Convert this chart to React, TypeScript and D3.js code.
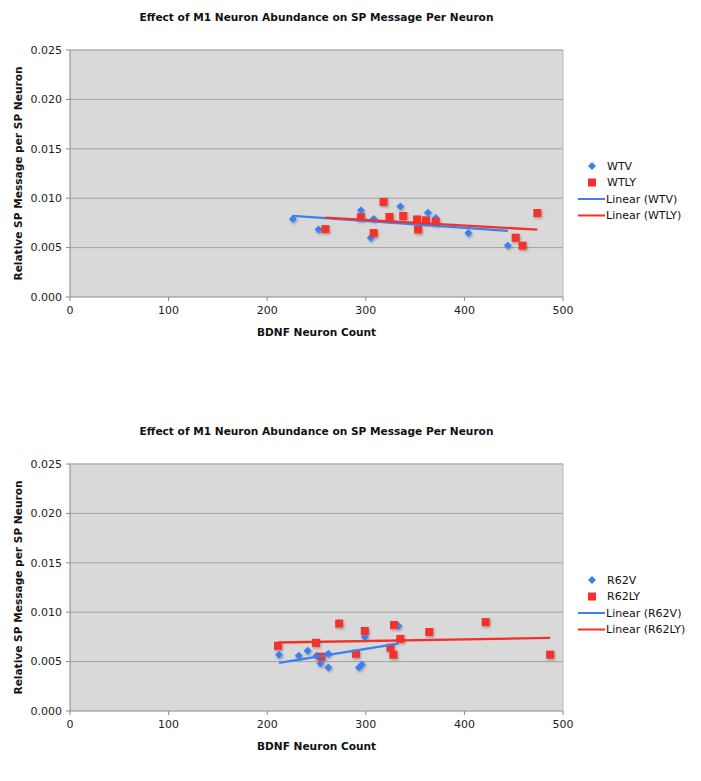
import React from "react";
import * as d3 from "d3";

// top chart: WT
const wtvX = [226, 252, 295, 305, 308, 335, 363, 371, 404, 444];
const wtvY = [0.0079, 0.00684, 0.00877, 0.006, 0.00791, 0.00917, 0.00853, 0.008, 0.00647, 0.0052];
const wtlyX = [259, 295, 308, 318, 324, 338, 352, 353, 361, 371, 452, 459, 474];
const wtlyY = [0.00687, 0.00807, 0.00647, 0.00963, 0.0081, 0.0082, 0.00785, 0.00684, 0.00776, 0.0076, 0.006, 0.0052, 0.0085];

// bottom chart: R62
const r62vX = [212, 232, 241, 250, 254, 262, 262, 293, 296, 299, 333];
const r62vY = [0.0057, 0.0056, 0.0061, 0.0056, 0.0048, 0.0058, 0.0044, 0.0044, 0.0047, 0.0075, 0.0086];
const r62lyX = [211, 249.5, 255, 273, 290, 299, 325, 328, 328.6, 335, 364.4, 421.6, 487];
const r62lyY = [0.0066, 0.0069, 0.0055, 0.00885, 0.0058, 0.0081, 0.0064, 0.0057, 0.0087, 0.0073, 0.008, 0.009, 0.0057];

const xTicks = [0, 100, 200, 300, 400, 500];
const yTicks = [0, 0.005, 0.01, 0.015, 0.02, 0.025];

const TITLE = "Effect of M1 Neuron Abundance on SP Message Per Neuron";
const BLUE = "#3b7ff3";
const RED = "#f4302c";
const FONT = "'DejaVu Sans', Verdana, sans-serif";

// least squares fit, like Excel's linear trendline
function fit(xs: number[], ys: number[]) {
  const mx = d3.mean(xs)!;
  const my = d3.mean(ys)!;
  let sxy = 0, sxx = 0;
  xs.forEach((x, i) => {
    sxy += (x - mx) * (ys[i] - my);
    sxx += (x - mx) * (x - mx);
  });
  const b = sxy / sxx;
  const a = my - b * mx;
  const [x0, x1] = d3.extent(xs) as [number, number];
  return [[x0, a + b * x0], [x1, a + b * x1]];
}

function Chart({ top, s1, s2 }: any) {
  const left = 70, right = 563;
  const pTop = top + 50, pBot = top + 297;
  const x = d3.scaleLinear().domain([0, 500]).range([left, right]);
  const y = d3.scaleLinear().domain([0, 0.025]).range([pBot, pTop]);
  const line = d3.line<number[]>().x((d) => x(d[0])).y((d) => y(d[1]));
  const t1 = fit(s1.xs, s1.ys);
  const t2 = fit(s2.xs, s2.ys);
  const diamond = d3.symbol(d3.symbolDiamond2, 40)();

  return (
    <g fontFamily={FONT}>
      <text x={(left + right) / 2} y={top + 21} textAnchor="middle" fontSize={10.6} fontWeight="bold" fill="#111">
        {TITLE}
      </text>
      <rect x={left} y={pTop} width={right - left} height={pBot - pTop} fill="#d9d9d9" />
      {yTicks.map((t) => (
        <g key={t}>
          {t > 0 && <line x1={left} x2={right} y1={y(t)} y2={y(t)} stroke="#a3a3a3" strokeWidth={1} />}
          <line x1={left - 4} x2={left} y1={y(t)} y2={y(t)} stroke="#8a8a8a" />
          <text x={left - 8} y={y(t)} dy="0.35em" textAnchor="end" fontSize={11} fill="#222">
            {t.toFixed(3)}
          </text>
        </g>
      ))}
      {xTicks.map((t) => (
        <g key={t}>
          <line x1={x(t)} x2={x(t)} y1={pBot} y2={pBot + 4} stroke="#8a8a8a" />
          <text x={x(t)} y={pBot + 17} textAnchor="middle" fontSize={11} fill="#222">
            {t}
          </text>
        </g>
      ))}
      <line x1={left} x2={left} y1={pTop} y2={pBot} stroke="#8a8a8a" />
      <line x1={left} x2={right} y1={pBot} y2={pBot} stroke="#8a8a8a" />
      <line x1={right} x2={right} y1={pTop} y2={pBot} stroke="#b5b5b5" />
      <line x1={left} x2={right} y1={pTop} y2={pTop} stroke="#b5b5b5" />
      <text x={(left + right) / 2} y={pBot + 39} textAnchor="middle" fontSize={10.6} fontWeight="bold" fill="#111">
        BDNF Neuron Count
      </text>
      <text
        transform={`translate(22,${(pTop + pBot) / 2}) rotate(-90)`}
        textAnchor="middle"
        fontSize={10.6}
        fontWeight="bold"
        fill="#111"
      >
        Relative SP Message per SP Neuron
      </text>

      <g filter="url(#shadow)">
        {s1.xs.map((v: number, i: number) => (
          <path key={"a" + i} d={diamond!} transform={`translate(${x(v)},${y(s1.ys[i])})`} fill={BLUE} />
        ))}
        {s2.xs.map((v: number, i: number) => (
          <rect key={"b" + i} x={x(v) - 4} y={y(s2.ys[i]) - 4} width={8} height={8} fill={RED} />
        ))}
      </g>
      <path d={line(t1 as any)!} stroke={BLUE} strokeWidth={2.3} fill="none" />
      <path d={line(t2 as any)!} stroke={RED} strokeWidth={2.3} fill="none" />

      <g transform={`translate(0,${top + 166})`} fontSize={11} fill="#111">
        <path d={diamond!} transform="translate(592,0)" fill={BLUE} />
        <text x={607} y={0} dy="0.35em">{s1.name}</text>
        <rect x={588} y={16.5 - 4} width={8} height={8} fill={RED} />
        <text x={607} y={16.5} dy="0.35em">{s2.name}</text>
        <line x1={578} x2={605} y1={33} y2={33} stroke={BLUE} strokeWidth={2} />
        <text x={606} y={33} dy="0.35em">{`Linear (${s1.name})`}</text>
        <line x1={578} x2={605} y1={49.5} y2={49.5} stroke={RED} strokeWidth={2} />
        <text x={606} y={49.5} dy="0.35em">{`Linear (${s2.name})`}</text>
      </g>
    </g>
  );
}

export default function App() {
  return (
    <svg width={701} height={781} style={{ position: "absolute", left: 0, top: 0, background: "#fff" }}>
      <defs>
        <filter id="shadow" x="-50%" y="-50%" width="200%" height="200%">
          <feDropShadow dx={1} dy={1.5} stdDeviation={0.8} floodColor="#000" floodOpacity={0.3} />
        </filter>
      </defs>
      <Chart top={0} s1={{ name: "WTV", xs: wtvX, ys: wtvY }} s2={{ name: "WTLY", xs: wtlyX, ys: wtlyY }} />
      <Chart top={414} s1={{ name: "R62V", xs: r62vX, ys: r62vY }} s2={{ name: "R62LY", xs: r62lyX, ys: r62lyY }} />
    </svg>
  );
}
